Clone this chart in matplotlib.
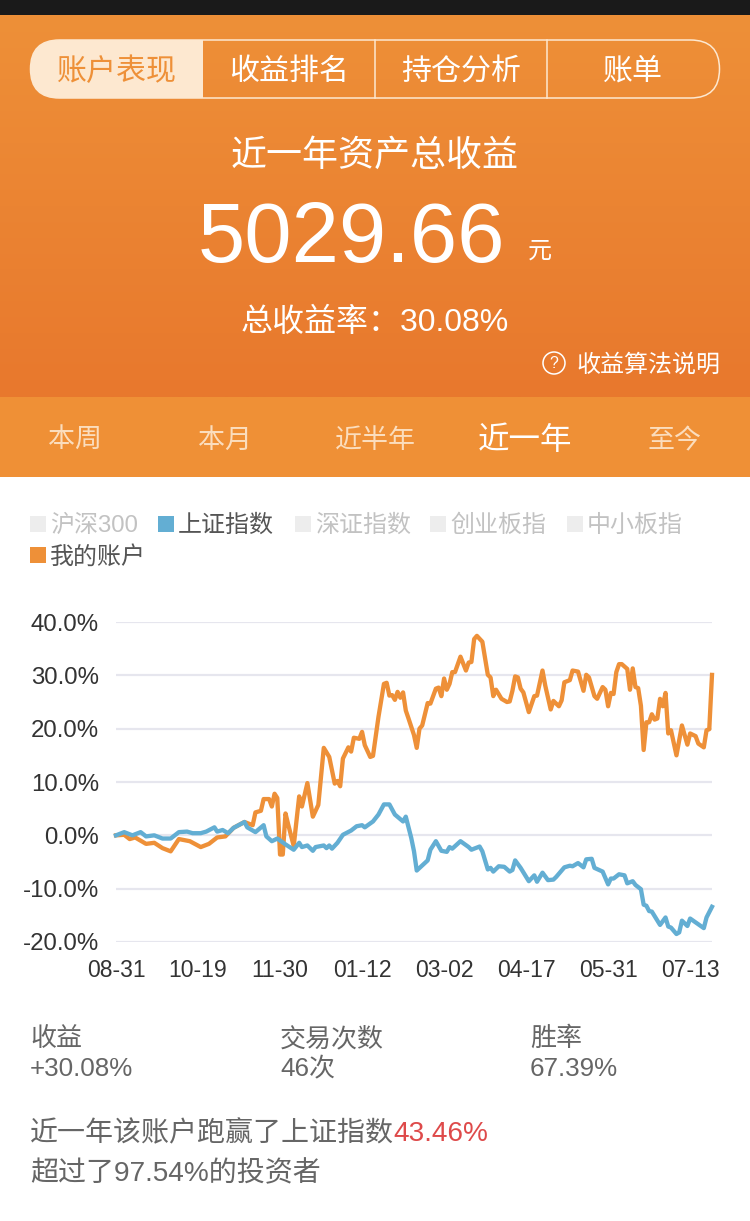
import numpy as np
import matplotlib
matplotlib.use("Agg")
import matplotlib.pyplot as plt
from matplotlib.patches import Rectangle, FancyBboxPatch, Circle
from matplotlib.path import Path
from matplotlib.patches import PathPatch

plt.rcParams['font.family'] = ['Liberation Sans', 'Noto Sans CJK SC', 'DejaVu Sans']

tabs = ['账户表现', '收益排名', '持仓分析', '账单']
periods = ['本周', '本月', '近半年', '近一年', '至今']
legend_row1 = ['沪深300', '上证指数', '深证指数', '创业板指', '中小板指']
legend_row2 = ['我的账户']
x_labels = ['08-31', '10-19', '11-30', '01-12', '03-02', '04-17', '05-31', '07-13']
x_ticks = [0, 30, 60, 90, 120, 150, 180, 210]
y_ticks = [40, 30, 20, 10, 0, -10, -20]

account_days = [0,3,5,7,11,14,17,20,23,27,31,34,37,40,43,47,50,51,53,54,56,57,58,59,60,61,62,63,65,67,68,70,72,74,76,78,80,81,82,83,85,86,87,89,90,91,93,94,96,98,99,100,101,102,103,104,105,106,107,109,110,111,112,114,115,117,118,119,120,121,122,123,124,126,128,129,130,131,132,134,136,137,138,139,141,143,144,145,146,147,148,149,151,153,154,156,157,159,160,162,163,164,166,167,169,171,172,173,175,176,178,179,180,181,182,183,184,185,187,188,189,190,191,192,193,194,195,196,197,198,199,200,201,202,203,205,207,209,210,212,213,215,216,217,218]
account_vals = [0,0.1,-0.7,-0.4,-1.6,-1.4,-2.4,-3.0,-0.7,-1.1,-2.2,-1.6,-0.4,-0.2,1.4,2.5,1.9,4.3,4.6,6.8,6.8,5.4,7.8,7.0,-3.6,-3.6,4.1,2.0,-2.0,7.3,5.4,9.8,3.5,5.7,16.4,14.7,9.7,10.2,9.2,14.4,16.5,15.7,18.3,18.1,19.4,16.9,14.7,14.9,22.2,28.4,28.6,26.2,26.3,25.4,26.9,25.8,26.8,23.4,21.9,18.8,16.4,20,20.6,24.8,24.7,27.5,27.7,26.1,29.4,27.3,28.4,30.6,30.6,33.5,30.9,32.4,32.5,36.8,37.4,36.3,30.1,29.6,26.1,27.3,25.6,25,25.1,27.1,29.8,29.6,27.5,26.8,23.1,26.1,26.2,30.9,28.1,23.6,25.2,24.2,25.3,28.7,29.1,30.9,30.7,27.1,30.1,29.6,26.1,25.6,27.8,27.3,24.2,26.7,26.5,30.6,32.1,32.1,31.2,27.3,31.3,27.8,27.6,24.3,16,21.2,21.2,22.7,21.7,21.9,25.6,24.2,26.7,19.1,19.7,15,20.6,17,19.1,18.6,17.2,16.5,19.7,19.9,30.08]

index_days = [0,3,6,9,11,14,17,20,23,26,28,31,33,36,37,39,41,43,47,48,51,54,55,57,59,62,65,67,68,70,72,73,76,77,78,79,81,83,86,88,90,91,94,96,98,100,102,105,106,108,109,110,114,115,117,119,121,122,123,126,129,130,133,134,136,137,138,140,142,144,145,146,148,151,153,154,156,158,160,161,164,166,167,169,171,172,174,175,178,180,181,182,184,186,187,189,190,192,193,194,195,196,199,201,202,203,205,206,207,209,210,215,216,218]
index_vals = [0,0.6,0,0.6,-0.2,0,-0.6,-0.6,0.6,0.7,0.4,0.4,0.7,1.5,0.7,1,0.4,1.4,2.5,1.5,0.6,1.9,-0.2,-1.1,-0.6,-1.7,-2.7,-1.4,-2.2,-1.9,-2.9,-2.2,-1.9,-2.4,-1.9,-2.5,-1.4,0.1,0.9,1.7,1.9,1.5,2.6,3.9,5.8,5.8,3.9,2.6,3.5,-0.5,-3,-6.6,-4.7,-2.7,-1.1,-2.9,-3.1,-2.2,-2.5,-1.1,-2.2,-2.7,-2.1,-3,-6.4,-6.1,-6.8,-5.8,-5.9,-6.8,-6.5,-4.7,-6.1,-8.6,-7.5,-8.7,-7,-8.4,-8.3,-7.8,-6,-5.7,-5.8,-5.2,-6,-4.5,-4.4,-6.1,-6.8,-9.2,-8.1,-8.1,-7.3,-7.5,-9,-8.6,-9.3,-10.1,-13,-13.2,-14.2,-14.3,-16.8,-15.4,-17.1,-17.3,-18.5,-18.2,-16,-17,-15.6,-17.4,-15.4,-13.4]

W, H = 750, 1221
ORANGE = '#EE9038'
BLUE = '#63AED3'
PX = 0.72

fig = plt.figure(figsize=(7.5, 12.21), dpi=100, facecolor='white')
bg = fig.add_axes([0, 0, 1, 1])
bg.set_xlim(0, W); bg.set_ylim(H, 0); bg.axis('off')

def T(x, y, s, px, color='white', ha='center', **kw):
    bg.text(x, y + 3, s, fontsize=px * PX, color=color, ha=ha, va='center', **kw)

bg.add_patch(Rectangle((0, 0), W, 15, fc='#1A1A1A', ec='none'))
grad = np.linspace(0, 1, 256).reshape(-1, 1, 1)
top = np.array(matplotlib.colors.to_rgb('#EE9038')).reshape(1, 1, 3)
bot = np.array(matplotlib.colors.to_rgb('#E8782D')).reshape(1, 1, 3)
bg.imshow(top * (1 - grad) + bot * grad, extent=(0, W, 397, 15), aspect='auto', zorder=0)
bg.set_xlim(0, W); bg.set_ylim(H, 0)
bg.add_patch(Rectangle((0, 397), W, 80, fc='#EF9036', ec='none'))

# segmented control
L, R, Tp, B = 30.5, 719.5, 40, 98
r = 29
bg.add_patch(FancyBboxPatch((L + r, Tp + r), R - L - 2 * r, B - Tp - 2 * r,
                            boxstyle=f'round,pad={r},rounding_size={r}',
                            fc='none', ec='#FDE8D0', lw=1.1, zorder=2))
verts = [(203, Tp), (L + r, Tp), (L, Tp), (L, Tp + r), (L, B), (L + r, B), (203, B), (203, Tp)]
codes = [Path.MOVETO, Path.LINETO, Path.CURVE3, Path.CURVE3, Path.CURVE3, Path.CURVE3, Path.LINETO, Path.CLOSEPOLY]
bg.add_patch(PathPatch(Path(verts, codes), fc='#FDE8D0', ec='none', zorder=3))
for xs in (375, 547):
    bg.plot([xs, xs], [Tp, B], color='#FDE8D0', lw=1.1, zorder=3)
for x, s, c in zip((117, 289, 461, 633), tabs, ('#EE9038', 'white', 'white', 'white')):
    T(x, 69, s, 30, color=c, zorder=4)

T(375, 153, '近一年资产总收益', 36)
T(351, 237, '5029.66', 85)
T(540, 249, '元', 24)
T(375, 320, '总收益率：30.08%', 32)
bg.add_patch(Circle((554, 363), 11, fc='none', ec='white', lw=1.1))
T(554, 360, '?', 16)
T(648, 362, '收益算法说明', 24)

for x, s, px, c in zip((75, 225, 375, 525, 675), periods, (27, 27, 27, 31.5, 27),
                       ('#FBDDBD', '#FBDDBD', '#FBDDBD', 'white', '#FBDDBD')):
    T(x, 438, s, px, color=c)

# legend
for x, s, c, tc in zip((30, 158, 295, 430, 567), legend_row1,
                       ('#EDEDED', BLUE, '#EDEDED', '#EDEDED', '#EDEDED'),
                       ('#C2C2C2', '#555555', '#C2C2C2', '#C2C2C2', '#C2C2C2')):
    bg.add_patch(Rectangle((x, 516), 16, 16, fc=c, ec='none'))
    T(x + 20, 523, s, 24, color=tc, ha='left')
bg.add_patch(Rectangle((30, 547), 16, 16, fc=ORANGE, ec='none'))
T(50, 554, legend_row2[0], 24, color='#555555', ha='left')

# chart
ax = fig.add_axes([116 / W, 1 - 942 / H, (712 - 116) / W, 320 / H], facecolor='none')
ax.set_xlim(0, 218); ax.set_ylim(-20, 40)
for s in ax.spines.values():
    s.set_visible(False)
ax.set_yticks(y_ticks)
ax.set_yticklabels([f'{v:.1f}%' for v in y_ticks], fontsize=24 * PX, color='#333333')
ax.set_xticks(x_ticks)
ax.set_xticklabels(x_labels, fontsize=23 * PX, color='#333333')
ax.tick_params(length=0, pad=17 * PX, axis='y')
ax.tick_params(length=0, pad=17 * PX, axis='x')
ax.grid(axis='y', color='#E6E6EE', lw=1.6)
ax.set_axisbelow(True)
ax.plot(account_days, account_vals, color=ORANGE, lw=3.1, solid_joinstyle='round', clip_on=False, zorder=3)
ax.plot(index_days, index_vals, color=BLUE, lw=3.1, solid_joinstyle='round', clip_on=False, zorder=4)

# stats
for x, a, b in zip((30, 280, 530), ('收益', '交易次数', '胜率'), ('+30.08%', '46次', '67.39%')):
    T(x, 1036, a, 26, color='#666666', ha='left')
    T(x, 1066, b, 26, color='#666666', ha='left')

T(30, 1131, '近一年该账户跑赢了上证指数', 28, color='#666666', ha='left')
T(393, 1131, '43.46%', 28, color='#DE4A4A', ha='left')
T(30, 1171, '超过了97.54%的投资者', 28, color='#666666', ha='left')

fig.savefig('out.png', dpi=100, facecolor='white')
